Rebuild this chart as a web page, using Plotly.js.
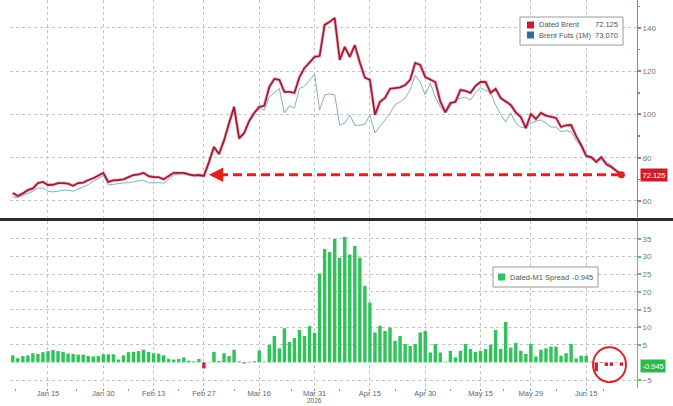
<!DOCTYPE html>
<html><head><meta charset="utf-8">
<script src="https://cdn.plot.ly/plotly-3.0.1.min.js"></script>
<style>html,body{margin:0;padding:0;background:#fff}#chart{width:673px;height:406px}</style>
</head><body><div id="chart"></div>
<script>
const dates = [
'2026-01-06','2026-01-07','2026-01-08','2026-01-09','2026-01-12','2026-01-13','2026-01-14','2026-01-15','2026-01-16','2026-01-19',
'2026-01-20','2026-01-21','2026-01-22','2026-01-23','2026-01-26','2026-01-27','2026-01-28','2026-01-29','2026-01-30','2026-02-02',
'2026-02-03','2026-02-04','2026-02-05','2026-02-06','2026-02-09','2026-02-10','2026-02-11','2026-02-12','2026-02-13','2026-02-16',
'2026-02-17','2026-02-18','2026-02-19','2026-02-20','2026-02-23','2026-02-24','2026-02-25','2026-02-26','2026-02-27','2026-03-02',
'2026-03-03','2026-03-04','2026-03-05','2026-03-06','2026-03-09','2026-03-10','2026-03-11','2026-03-12','2026-03-13','2026-03-16',
'2026-03-17','2026-03-18','2026-03-19','2026-03-20','2026-03-23','2026-03-24','2026-03-25','2026-03-26','2026-03-27','2026-03-30',
'2026-03-31','2026-04-01','2026-04-02','2026-04-03','2026-04-06','2026-04-07','2026-04-08','2026-04-09','2026-04-10','2026-04-13',
'2026-04-14','2026-04-15','2026-04-16','2026-04-17','2026-04-20','2026-04-21','2026-04-22','2026-04-23','2026-04-24','2026-04-27',
'2026-04-28','2026-04-29','2026-04-30','2026-05-01','2026-05-04','2026-05-05','2026-05-06','2026-05-07','2026-05-08','2026-05-11',
'2026-05-12','2026-05-13','2026-05-14','2026-05-15','2026-05-18','2026-05-19','2026-05-20','2026-05-21','2026-05-22','2026-05-25',
'2026-05-26','2026-05-27','2026-05-28','2026-05-29','2026-06-01','2026-06-02','2026-06-03','2026-06-04','2026-06-05','2026-06-08',
'2026-06-09','2026-06-10','2026-06-11','2026-06-12','2026-06-15','2026-06-16','2026-06-17','2026-06-18','2026-06-19','2026-06-22',
'2026-06-23','2026-06-24'];

const datedBrent = [
63.7,62.3,63.5,65,65.8,68.3,68.8,67.4,67.5,68.3,
68.3,68,67,68.3,68.5,69.7,70.5,71.6,73,68.8,
69.5,69.7,70,71,72,72.3,73,71.5,71,71,
70,71.5,73,73,73,72.3,71.8,72,71.6,78,
85,81.7,88,96,103.5,89,91.4,97,100.7,103.5,
104,112.7,116.4,116,110.4,110.4,110,117.3,121.5,124,
126.6,127,141.4,142.8,144.6,125.2,131.2,126.6,132,124,
117,116,99.8,105.8,107.6,111.8,112,112.5,113.6,116,
123.8,122.9,117.3,116,115,106,101,105.3,105.8,111.3,
110.9,110,113.2,115,115,110,111.8,107.6,106,104.4,
101,98.8,93.7,100.2,97.9,100.7,99.5,98.8,98.4,94.2,
95,95.1,90,85.9,80.8,80.3,78,80.3,77,75.7,
74,72.125];

const brentFuts = [
61.8,61.5,62.5,63.5,64.5,66,66,64.5,64.2,64.5,
65,65,64.5,65.5,66.5,67.5,69,70.5,71.8,67.4,
67.8,68,68.3,68.5,69,69.5,69.7,68.5,68.3,68.5,
68.3,70,72,72.5,72.5,72,71.5,72,71.3,77,
84.5,81.5,87.5,95,102.5,88.5,91,96.5,100.5,103,
102,108,110,112,100.7,104,103,112,113,116,
118.7,102,109,109.5,109,95.1,96,99.8,95,95,
95.5,99.8,91.4,94.5,97.5,100.5,104.5,105.8,107.6,111.3,
118,115,109,114.6,108,103.5,100.7,104,106.7,107.5,
108,106.7,110,112.3,111,110,104.4,100,96.5,100.7,
96,94.2,93.7,96,97,97.5,96,94.2,94.2,92,
92.5,92,88,85,80.3,79.5,79,79,78,76.6,
74.3,73.07];

const spread = [
2.0,1.2,1.8,2.0,2.6,2.4,2.9,3.2,3.5,3.2,
3.0,2.5,2.4,2.2,2.2,1.8,1.7,1.8,2.3,2.3,
2.3,0.8,2.0,2.9,3.0,3.2,3.6,3.0,2.6,2.5,
2.0,1.0,0.8,1.0,1.4,0.5,0.3,1.0,-1.7,0.1,
3.0,0.4,2.6,1.8,3.6,0.3,-0.3,0.2,0.3,3.4,
0.2,5.0,7.5,4.0,9.7,5.8,6.9,9.2,7.5,10.3,
8.4,25.2,32.2,31.3,35.0,29.7,35.6,30.6,33.0,29.7,
21.7,17.0,8.5,10.4,8.9,9.9,6.1,7.5,5.2,4.7,
5.2,8.5,8.9,2.8,5.2,2.8,0.2,3.3,1.4,3.3,
5.2,3.8,3.0,3.3,3.8,5.0,9.2,3.8,11.5,4.2,
5.5,3.3,2.4,5.2,1.7,3.6,4.0,4.5,4.5,1.9,
2.6,5.2,1.1,1.9,1.9,0.2,-2.5,-0.2,-1.0,-1.0,
-0.1,-0.945];

const tickDates = ['2026-01-15','2026-01-30','2026-02-13','2026-02-27','2026-03-16','2026-03-31','2026-04-15','2026-04-30','2026-05-15','2026-05-29','2026-06-15'];
const tickLabels = ['Jan 15','Jan 30','Feb 13','Feb 27','Mar 16','Mar 31','Apr 15','Apr 30','May 15','May 29','Jun 15'];
const yearLabel = '2026';
const yearLabelDate = '2026-03-31';
const minorTickDates = ['2026-01-06 14:00','2026-01-22 14:00','2026-02-06','2026-02-20','2026-03-09','2026-03-24 12:00','2026-04-07','2026-04-22','2026-05-07','2026-05-21 12:00','2026-06-05','2026-06-18 12:00'];
const priceTicks = [60,80,100,120,140];
const priceMinorTicks = [70,90,110,130,150];
const spreadTicks = [-5,5,10,15,20,25,30,35];
const seriesNames = ['Dated Brent','Brent Futs (1M)','Dated-M1 Spread'];

const n = dates.length;
const lastDate = dates[n-1];
const lastDated = datedBrent[n-1];
const lastFuts = brentFuts[n-1];
const lastSpread = spread[n-1];
const arrowTargetDate = dates[39];
const dashStartDate = dates[41];

const RED = '#c81d31', BLUE = '#2c6f96', GREEN = '#2fc35a';
const FAM = 'Liberation Sans, Arial, sans-serif';
const tf = {family:FAM, size:7.5, color:'#666'};

const traces = [
  {x:dates, y:brentFuts, type:'scatter', mode:'lines', xaxis:'x', yaxis:'y',
   line:{color:'#88aebc', width:1}, hoverinfo:'skip'},
  {x:dates, y:datedBrent, type:'scatter', mode:'lines', xaxis:'x', yaxis:'y',
   line:{color:'rgba(232,130,150,0.5)', width:3.4}, hoverinfo:'skip'},
  {x:dates, y:datedBrent, type:'scatter', mode:'lines', xaxis:'x', yaxis:'y',
   line:{color:'#a31c35', width:1.8}},
  {x:[lastDate], y:[lastDated], type:'scatter', mode:'markers', xaxis:'x', yaxis:'y',
   marker:{color:'#e3201b', size:7}},
  {x:dates, y:spread, type:'bar', xaxis:'x', yaxis:'y2',
   marker:{color:spread.map(v => v < 0 ? '#d3203a' : GREEN)}}
];

const W = 627, H = 388;
const px = v => (v - 10) / W;
const py = v => (H - v) / H;

const shapes = [
  {type:'line', xref:'paper', yref:'paper', x0:px(0), x1:px(673), y0:py(219.5), y1:py(219.5), line:{color:'#2a2a2a', width:3}},
  {type:'line', xref:'x', yref:'y', x0:dashStartDate, x1:lastDate, y0:lastDated, y1:lastDated, line:{color:'#e3201b', width:3, dash:'9px,5px'}},
  {type:'circle', xref:'paper', yref:'y2', x0:px(593), x1:px(626), y0:-5.6, y1:4.3, line:{color:'#d42a2a', width:2}},
  {type:'rect', xref:'paper', yref:'paper', x0:px(520), x1:px(623), y0:py(45), y1:py(17), line:{color:'#9a9a9a', width:1}, fillcolor:'#fff'},
  {type:'rect', xref:'paper', yref:'paper', x0:px(527), x1:px(534), y0:py(28.5), y1:py(21.5), line:{width:0}, fillcolor:RED},
  {type:'rect', xref:'paper', yref:'paper', x0:px(527), x1:px(534), y0:py(38.5), y1:py(31.5), line:{width:0}, fillcolor:BLUE},
  {type:'rect', xref:'paper', yref:'paper', x0:px(493), x1:px(598), y0:py(287), y1:py(267), line:{color:'#9a9a9a', width:1}, fillcolor:'#fff'},
  {type:'rect', xref:'paper', yref:'paper', x0:px(498), x1:px(505), y0:py(280.5), y1:py(273.5), line:{width:0}, fillcolor:GREEN}
];

const lf = {family:FAM, size:7.5, color:'#555'};
const annotations = [
  {x:arrowTargetDate, y:lastDated, xref:'x', yref:'y', text:'', showarrow:true, ax:16, ay:0,
   arrowhead:2, arrowsize:1.1, arrowwidth:2.6, arrowcolor:'#e3201b'},
  {x:1, xref:'paper', y:lastDated, yref:'y', xanchor:'left', xshift:3, text:lastDated.toFixed(3), showarrow:false,
   font:{family:FAM, size:7.5, color:'#fff'}, bgcolor:'#cf1b2b', borderpad:1.5},
  {x:1, xref:'paper', y:lastSpread, yref:'y2', xanchor:'left', xshift:3, text:lastSpread.toFixed(3), showarrow:false,
   font:{family:FAM, size:7.5, color:'#fff'}, bgcolor:'#2cb84f', borderpad:1.5},
  {x:yearLabelDate, xref:'x', y:py(400.5), yref:'paper', xanchor:'center', yanchor:'middle', text:yearLabel, showarrow:false,
   font:{family:FAM, size:6.5, color:'#666'}, borderpad:0},
  {x:px(537), y:py(25), xref:'paper', yref:'paper', xanchor:'left', yanchor:'middle', text:seriesNames[0], showarrow:false, font:lf},
  {x:px(620), y:py(25), xref:'paper', yref:'paper', xanchor:'right', yanchor:'middle', text:lastDated.toFixed(3), showarrow:false, font:lf},
  {x:px(537), y:py(35), xref:'paper', yref:'paper', xanchor:'left', yanchor:'middle', text:seriesNames[1], showarrow:false, font:lf},
  {x:px(620), y:py(35), xref:'paper', yref:'paper', xanchor:'right', yanchor:'middle', text:lastFuts.toFixed(3), showarrow:false, font:lf},
  {x:px(508), y:py(277), xref:'paper', yref:'paper', xanchor:'left', yanchor:'middle', text:seriesNames[2], showarrow:false, font:lf},
  {x:px(595), y:py(277), xref:'paper', yref:'paper', xanchor:'right', yanchor:'middle', text:lastSpread.toFixed(3), showarrow:false, font:lf}
];

const layout = {
  width:673, height:406,
  margin:{l:10, r:36, t:0, b:18},
  paper_bgcolor:'#fff', plot_bgcolor:'#fff',
  showlegend:false, bargap:0.32,
  font:{family:FAM},
  xaxis:{
    type:'date', anchor:'y2',
    range:['2026-01-05 10:48','2026-06-29 02:24'],
    rangebreaks:[{bounds:['sat','mon']}],
    tickmode:'array', tickvals:tickDates, ticktext:tickLabels,
    tickfont:tf, ticks:'outside', ticklen:2, tickcolor:'#888', tickwidth:1,
    ticklabelstandoff:-4,
    showgrid:true, gridcolor:'#c4c4c4', griddash:'dot', gridwidth:1,
    showline:false, zeroline:false,
    minor:{tickmode:'array', tickvals:minorTickDates, ticks:'outside', ticklen:2, tickcolor:'#999', showgrid:false}
  },
  yaxis:{
    domain:[py(217), 1], range:[52.6, 152.9], side:'right', anchor:'x',
    showline:true, linecolor:'#d4667a', linewidth:1,
    tickmode:'array', tickvals:priceTicks, tickfont:{family:FAM, size:8, color:'#777'},
    ticks:'outside', ticklen:3, tickwidth:2, tickcolor:'#d4667a',
    showgrid:true, gridcolor:'#c4c4c4', griddash:'dot', gridwidth:1, zeroline:false,
    minor:{tickmode:'array', tickvals:priceMinorTicks, ticks:'outside', ticklen:2, tickwidth:1.5, tickcolor:'#d4667a', showgrid:false}
  },
  yaxis2:{
    domain:[0, py(221)], range:[-7.26, 40.1], side:'right', anchor:'x',
    showline:true, linecolor:'#49d06c', linewidth:1,
    tickmode:'array', tickvals:spreadTicks, tickfont:{family:FAM, size:8, color:'#777'},
    ticks:'outside', ticklen:3, tickwidth:2, tickcolor:'#49d06c',
    showgrid:true, gridcolor:'#c4c4c4', griddash:'dot', gridwidth:1, zeroline:false
  },
  shapes:shapes,
  annotations:annotations
};

Plotly.newPlot('chart', traces, layout, {displayModeBar:false, staticPlot:true});
</script>
</body></html>
